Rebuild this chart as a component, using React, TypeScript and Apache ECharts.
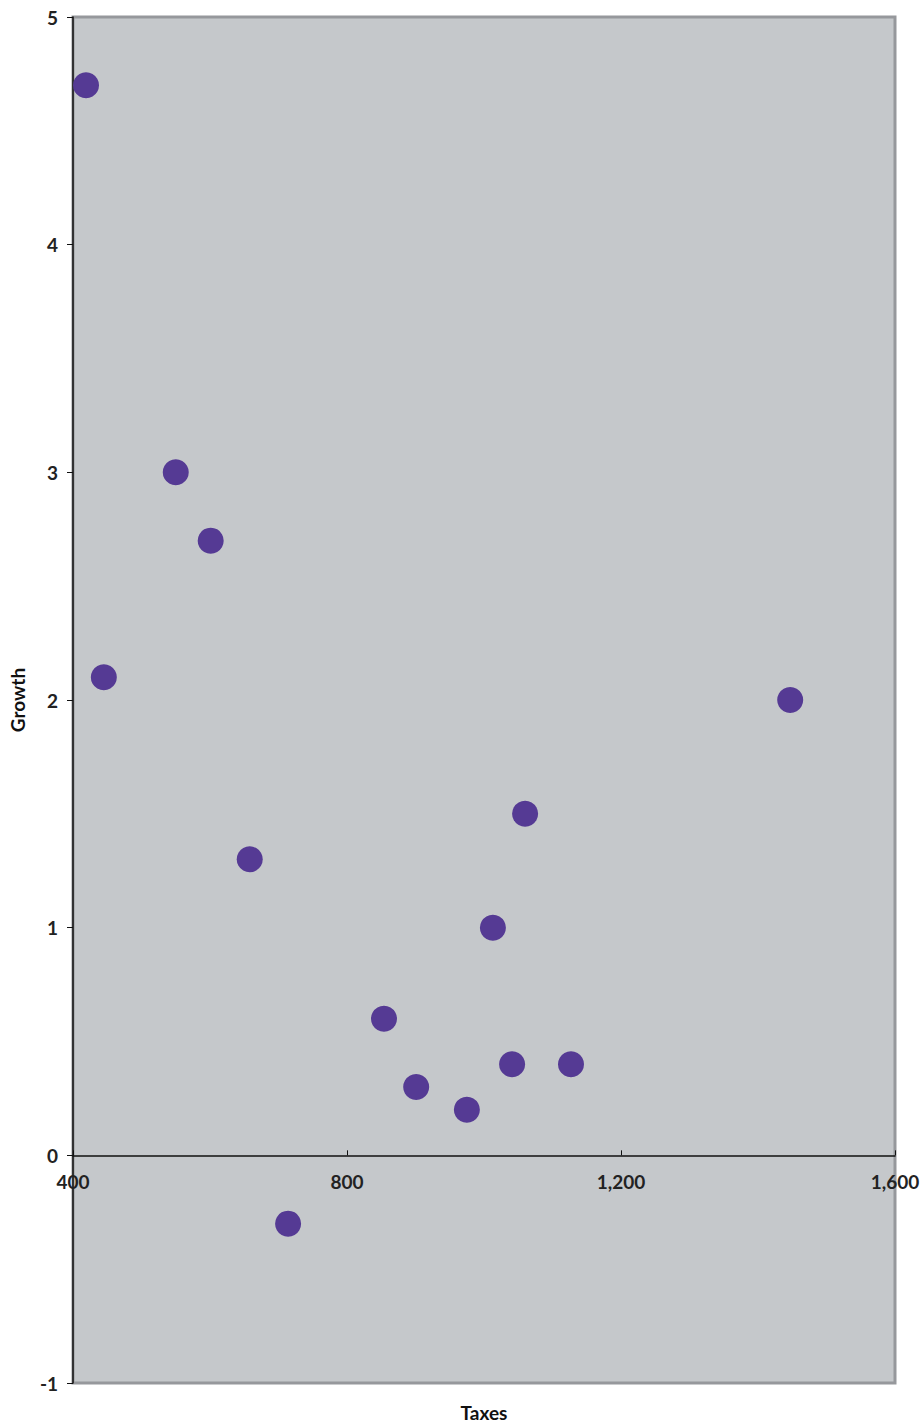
import React, { useEffect, useRef } from "react";
import * as echarts from "echarts";

const taxes = [419, 445, 550, 601, 658, 714, 854, 901, 975, 1013, 1041, 1060, 1127, 1447];
const growth = [4.7, 2.1, 3.0, 2.7, 1.3, -0.3, 0.6, 0.3, 0.2, 1.0, 0.4, 1.5, 0.4, 2.0];
const xTicks = [400, 800, 1200, 1600];
const yTicks = [-1, 0, 1, 2, 3, 4, 5];

const FONT = "Lato, 'Open Sans', sans-serif";

export default function App() {
  const ref = useRef<HTMLDivElement>(null);
  useEffect(() => {
    if (!ref.current) return;
    const chart = echarts.init(ref.current, null, { renderer: "svg" });
    const data = taxes.map((t, i) => [t, growth[i]]);
    const gridTop = 17;
    const gridBottom = 44;
    const plotH = 1427 - gridTop - gridBottom;
    const yMin = yTicks[0];
    const yMax = yTicks[yTicks.length - 1];
    const zeroOffset = -(plotH * (0 - yMin)) / (yMax - yMin);
    chart.setOption({
      animation: false,
      grid: {
        left: 73,
        top: gridTop,
        right: 29,
        bottom: gridBottom,
        show: true,
        backgroundColor: "#c5c8cb",
        borderColor: "#96989c",
        borderWidth: 3,
      },
      xAxis: {
        type: "value",
        min: xTicks[0],
        max: xTicks[xTicks.length - 1],
        interval: 400,
        offset: zeroOffset,
        axisLine: { show: true, onZero: false, lineStyle: { color: "#111", width: 1.5 } },
        axisTick: { show: true, inside: true, length: 5, lineStyle: { color: "#111" } },
        splitLine: { show: false },
        axisLabel: {
          margin: 17,
          color: "#222",
          fontFamily: FONT,
          fontWeight: "bold",
          fontSize: 19,
          formatter: (v: number) => v.toLocaleString("en-US"),
        },
      },
      yAxis: {
        type: "value",
        min: yMin,
        max: yMax,
        interval: 1,
        name: "Growth",
        nameLocation: "middle",
        nameGap: 46,
        nameRotate: 90,
        nameTextStyle: { color: "#111", fontFamily: FONT, fontWeight: "bold", fontSize: 19 },
        axisLine: { show: true, onZero: false, lineStyle: { color: "#111", width: 1.5 } },
        axisTick: { show: true, inside: false, length: 6, lineStyle: { color: "#111" } },
        splitLine: { show: false },
        axisLabel: {
          margin: 15,
          color: "#222",
          fontFamily: FONT,
          fontWeight: "bold",
          fontSize: 19,
        },
      },
      graphic: [
        {
          type: "text",
          x: 484,
          y: 1412,
          style: {
            text: "Taxes",
            fill: "#111",
            font: `bold 19px ${FONT}`,
            textAlign: "center",
            textVerticalAlign: "middle",
          },
        },
      ],
      series: [
        {
          type: "scatter",
          data,
          symbol: "circle",
          symbolSize: 26,
          itemStyle: { color: "#553a94", opacity: 1 },
        },
      ],
    });
    return () => chart.dispose();
  }, []);
  return (
    <div
      ref={ref}
      style={{ position: "absolute", left: 0, top: 0, width: 924, height: 1427 }}
    />
  );
}
